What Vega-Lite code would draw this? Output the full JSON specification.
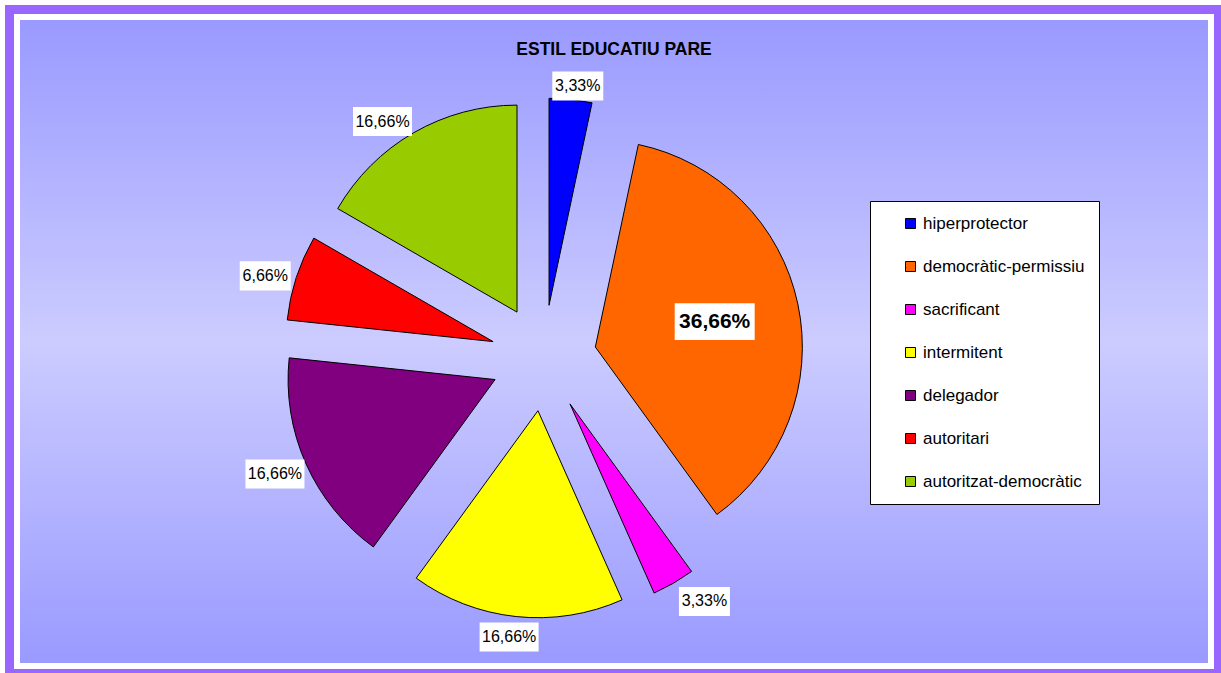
{
  "$schema": "https://vega.github.io/schema/vega-lite/v6.json",
  "width": 1200,
  "height": 655,
  "autosize": "none",
  "padding": {"left": 14, "top": 14, "right": 7, "bottom": 4},
  "background": "white",
  "config": {
    "view": {"stroke": "#9966FF", "strokeWidth": 18, "fill": "white"},
    "font": "Liberation Sans"
  },
  "title": {
    "text": "ESTIL EDUCATIU PARE",
    "font": "Liberation Sans",
    "fontSize": 17.5,
    "fontWeight": "bold",
    "color": "black",
    "anchor": "middle",
    "frame": "group",
    "offset": -44
  },
  "layer": [
    {
      "data": {"values": [{}]},
      "mark": {
        "type": "rect",
        "clip": true,
        "stroke": "white",
        "strokeWidth": 12,
        "fill": {
          "gradient": "linear",
          "x1": 0, "y1": 0, "x2": 0, "y2": 1,
          "stops": [
            {"offset": 0, "color": "#9999FF"},
            {"offset": 0.5, "color": "#CCCCFF"},
            {"offset": 1, "color": "#9999FF"}
          ]
        }
      }
    },
    {
      "data": {
        "values": [
          {"estil": "hiperprotector", "pct": 3.33, "ordre": 1},
          {"estil": "democràtic-permissiu", "pct": 36.66, "ordre": 2},
          {"estil": "sacrificant", "pct": 3.33, "ordre": 3},
          {"estil": "intermitent", "pct": 16.66, "ordre": 4},
          {"estil": "delegador", "pct": 16.66, "ordre": 5},
          {"estil": "autoritari", "pct": 6.66, "ordre": 6},
          {"estil": "autoritzat-democràtic", "pct": 16.66, "ordre": 7}
        ]
      },
      "transform": [
        {"joinaggregate": [{"op": "sum", "field": "pct", "as": "total"}]},
        {"window": [{"op": "sum", "field": "pct", "as": "c1"}], "sort": [{"field": "ordre"}], "frame": [null, 0]},
        {"calculate": "(datum.c1 - datum.pct) / datum.total", "as": "f0"},
        {"calculate": "datum.c1 / datum.total", "as": "f1"},
        {"calculate": "PI * (datum.f0 + datum.f1)", "as": "mid"},
        {"calculate": "sin(datum.mid)", "as": "s"},
        {"calculate": "-cos(datum.mid)", "as": "cd"},
        {"calculate": "53 * datum.s", "as": "ox"},
        {"calculate": "53 * datum.cd", "as": "oy"},
        {"calculate": "datum.pct > 30 ? datum.ox + 122 * datum.s : datum.ox + 207 * datum.s + 31 * (datum.s < 0 ? -1 : 1) * min(1, 2.2 * abs(datum.s))", "as": "lx"},
        {"calculate": "datum.pct > 30 ? datum.oy + 122 * datum.cd : datum.oy + 207 * datum.cd + 3.5 + 17 * datum.cd", "as": "ly"},
        {"calculate": "replace(format(datum.pct, '.2f'), '.', ',') + '%'", "as": "etiqueta"}
      ],
      "layer": [
        {
          "mark": {"type": "arc", "outerRadius": 207, "stroke": "black", "strokeWidth": 1},
          "encoding": {
            "x": {"field": "ox", "type": "quantitative", "stack": null, "axis": null, "scale": {"domain": [-529.5, 670.5], "nice": false, "zero": false}},
            "y": {"field": "oy", "type": "quantitative", "stack": null, "axis": null, "scale": {"domain": [-344, 311], "reverse": true, "nice": false, "zero": false}},
            "theta": {"field": "f0", "type": "quantitative", "stack": null, "scale": {"domain": [0, 1]}},
            "theta2": {"field": "f1"},
            "color": {
              "field": "estil",
              "type": "nominal",
              "scale": {
                "domain": ["hiperprotector", "democràtic-permissiu", "sacrificant", "intermitent", "delegador", "autoritari", "autoritzat-democràtic"],
                "range": ["#0000FF", "#FF6600", "#FF00FF", "#FFFF00", "#800080", "#FF0000", "#99CC00"]
              },
              "legend": {
                "orient": "none",
                "legendX": 856,
                "legendY": 187,
                "title": null,
                "fillColor": "white",
                "strokeColor": "black",
                "padding": 14,
                "symbolType": "square",
                "symbolSize": 100,
                "symbolStrokeColor": "black",
                "symbolStrokeWidth": 1,
                "symbolOffset": 18,
                "labelOffset": 4,
                "labelFont": "Liberation Sans",
                "labelFontSize": 17,
                "labelColor": "black",
                "labelLimit": 0,
                "rowPadding": 25
              }
            }
          }
        },
        {
          "mark": {"type": "point", "filled": true, "color": "white", "opacity": 1, "strokeWidth": 0},
          "encoding": {
            "x": {"field": "lx", "type": "quantitative", "axis": null, "scale": {"domain": [-529.5, 670.5], "nice": false, "zero": false}},
            "y": {"field": "ly", "type": "quantitative", "axis": null, "scale": {"domain": [-344, 311], "reverse": true, "nice": false, "zero": false}},
            "shape": {
              "condition": [
                {"test": "datum.pct > 30", "value": "M-1,-0.457L1,-0.457L1,0.457L-1,0.457Z"},
                {"test": "datum.pct >= 10", "value": "M-1,-0.492L1,-0.492L1,0.492L-1,0.492Z"}
              ],
              "value": "M-1,-0.569L1,-0.569L1,0.569L-1,0.569Z"
            },
            "size": {
              "condition": [
                {"test": "datum.pct > 30", "value": 6400},
                {"test": "datum.pct >= 10", "value": 3481}
              ],
              "value": 2601
            }
          }
        },
        {
          "transform": [{"filter": "datum.pct <= 30"}],
          "mark": {"type": "text", "font": "Liberation Sans", "fontSize": 16, "color": "black", "align": "center", "baseline": "middle"},
          "encoding": {
            "x": {"field": "lx", "type": "quantitative", "axis": null, "scale": {"domain": [-529.5, 670.5], "nice": false, "zero": false}},
            "y": {"field": "ly", "type": "quantitative", "axis": null, "scale": {"domain": [-344, 311], "reverse": true, "nice": false, "zero": false}},
            "text": {"field": "etiqueta"}
          }
        },
        {
          "transform": [{"filter": "datum.pct > 30"}],
          "mark": {"type": "text", "font": "Liberation Sans", "fontSize": 21, "fontWeight": "bold", "color": "black", "align": "center", "baseline": "middle"},
          "encoding": {
            "x": {"field": "lx", "type": "quantitative", "axis": null, "scale": {"domain": [-529.5, 670.5], "nice": false, "zero": false}},
            "y": {"field": "ly", "type": "quantitative", "axis": null, "scale": {"domain": [-344, 311], "reverse": true, "nice": false, "zero": false}},
            "text": {"field": "etiqueta"}
          }
        }
      ]
    }
  ]
}
